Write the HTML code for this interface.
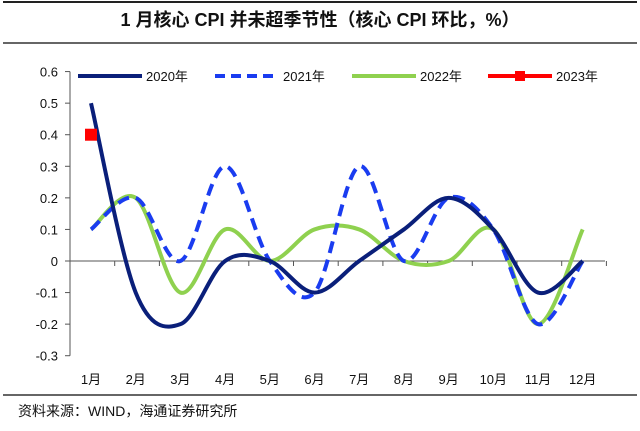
<!DOCTYPE html>
<html><head><meta charset="utf-8"><style>
html,body{margin:0;padding:0;background:#fff;}
body{width:640px;height:426px;overflow:hidden;font-family:"Liberation Sans","Noto Sans CJK SC",sans-serif;}
</style></head><body>
<svg id="s" width="640" height="426" xmlns="http://www.w3.org/2000/svg" font-family="Liberation Sans, Noto Sans CJK SC, sans-serif">
<line x1="3" y1="2" x2="637" y2="2" stroke="#222" stroke-width="2"/>
<text x="320" y="26" text-anchor="middle" font-size="18" font-weight="bold" fill="#111">1 月核心 CPI 并未超季节性（核心 CPI 环比，%）</text>
<line x1="3" y1="43" x2="637" y2="43" stroke="#333" stroke-width="1.5"/>
<line x1="3" y1="395" x2="637" y2="395" stroke="#333" stroke-width="1.5"/>
<text x="18" y="416" font-size="14" fill="#111">资料来源：WIND，海通证券研究所</text>
<g id="ax" font-size="13" fill="#111"></g>
<g id="lines"></g>
<g font-size="13" fill="#111">
<line x1="78" y1="76" x2="142" y2="76" stroke="#0a1f7a" stroke-width="4"/><text x="146" y="81">2020年</text>
<line x1="215" y1="76" x2="275" y2="76" stroke="#1a3cf0" stroke-width="4" stroke-dasharray="10,6"/><text x="283" y="81">2021年</text>
<line x1="352" y1="76" x2="416" y2="76" stroke="#8fd14f" stroke-width="4"/><text x="420" y="81">2022年</text>
<line x1="488" y1="76" x2="552" y2="76" stroke="#f00" stroke-width="4"/><rect x="515" y="71" width="10" height="10" fill="#f00"/><text x="556" y="81">2023年</text>
</g>
</svg>
<script>
var NS="http://www.w3.org/2000/svg";
function el(t,a,p,txt){var e=document.createElementNS(NS,t);for(var k in a)e.setAttribute(k,a[k]);if(txt)e.textContent=txt;p.appendChild(e);return e;}
var ax=document.getElementById('ax'),L=document.getElementById('lines');
var X0=70,y0=261,dy=315.7;
function Y(v){return y0-v*dy;}
function X(i){return 91+i*44.7;}
el('line',{x1:X0,y1:Y(0.6),x2:X0,y2:Y(-0.3),stroke:'#555','stroke-width':1},ax);
for(var k=-3;k<=6;k++){var v=k/10,y=Y(v);el('line',{x1:X0-5,y1:y,x2:X0,y2:y,stroke:'#555'},ax);
el('text',{x:X0-12,y:y+5,'text-anchor':'end'},ax,k==0?'0':v.toFixed(1));}
el('line',{x1:X0,y1:y0,x2:605,y2:y0,stroke:'#555'},ax);
for(var i=0;i<=12;i++){var xx=X0+i*44.7;el('line',{x1:xx,y1:y0,x2:xx,y2:y0+5,stroke:'#555'},ax);}
for(var i=0;i<12;i++)el('text',{x:X(i),y:384,'text-anchor':'middle'},ax,(i+1)+'月');
function path(d){var p=d.map(function(v,i){return[X(i),Y(v)]});var s='M'+p[0][0]+','+p[0][1];
for(var i=0;i<p.length-1;i++){var a=p[i-1]||p[i],b=p[i],c=p[i+1],e=p[i+2]||c,t=1/6;
s+=' C'+(b[0]+(c[0]-a[0])*t)+','+(b[1]+(c[1]-a[1])*t)+' '+(c[0]-(e[0]-b[0])*t)+','+(c[1]-(e[1]-b[1])*t)+' '+c[0]+','+c[1];}return s;}
el('path',{d:path([0.1,0.2,-0.1,0.1,0,0.1,0.1,0,0,0.1,-0.2,0.1]),fill:'none',stroke:'#8fd14f','stroke-width':4},L);
el('path',{d:path([0.1,0.2,0,0.3,0,-0.1,0.3,0,0.2,0.1,-0.2,0]),fill:'none',stroke:'#1a3cf0','stroke-width':4,'stroke-dasharray':'12,7'},L);
el('path',{d:path([0.5,-0.1,-0.2,0,0,-0.1,0,0.1,0.2,0.1,-0.1,0]),fill:'none',stroke:'#0a1f7a','stroke-width':4},L);
el('rect',{x:X(0)-6,y:Y(0.4)-6,width:12,height:12,fill:'#f00'},L);
</script>
</body></html>
